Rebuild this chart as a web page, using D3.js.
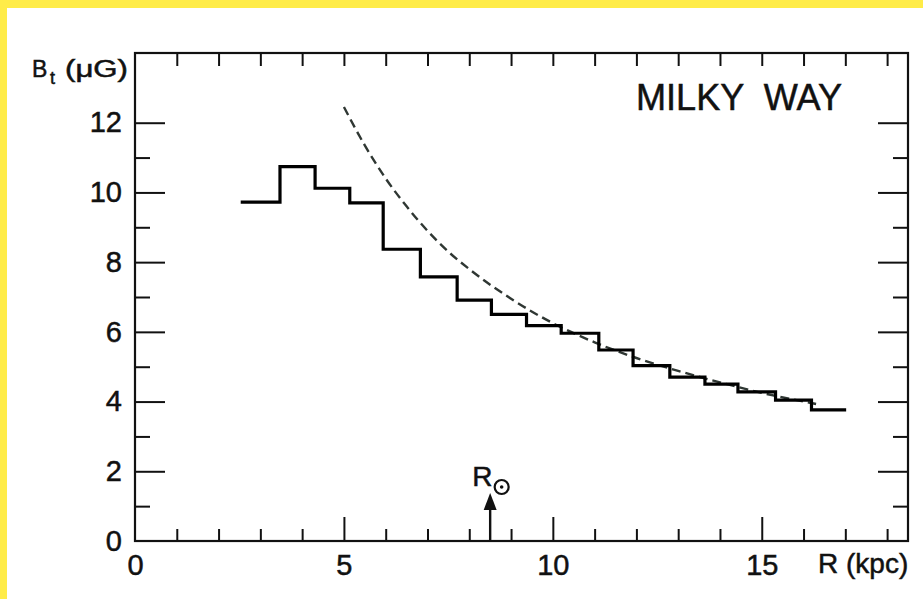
<!DOCTYPE html>
<html>
<head>
<meta charset="utf-8">
<script src="https://cdn.jsdelivr.net/npm/d3@7"></script>
<style>
  body { margin: 0; background: #fff; }
  svg { display: block; }
  text { font-family: "Liberation Sans", Arial, sans-serif; fill: #111; stroke: #111; stroke-width: 0.5px; }
</style>
</head>
<body>
<div id="canvas"></div>
<script>
// Histogram bin edges along R (kpc) and the field strength in each bin (uG).
const binEdges = [2.53, 3.47, 4.31, 5.14, 5.94, 6.83, 7.71, 8.53, 9.37, 10.2,
                  11.1, 11.92, 12.8, 13.64, 14.43, 15.33, 16.19, 17.02];
const fieldStrength = [9.72, 10.74, 10.12, 9.70, 8.37, 7.58, 6.91, 6.50, 6.18,
                       5.96, 5.48, 5.03, 4.70, 4.50, 4.28, 4.04, 3.76];

// Points.
const curveR = [5, 5.5, 6, 6.5, 7, 7.5, 8, 9, 10, 11, 12, 13, 14, 15, 16, 16.3];
const curveB = [12.45, 11.35, 10.4, 9.6, 8.9, 8.3, 7.8, 6.95, 6.25, 5.7, 5.25, 4.88, 4.55, 4.25, 4.0, 3.93];

// Tick values and labels.
const xMajor = [5, 10, 15];
const xMinor = [1, 2, 3, 4, 6, 7, 8, 9, 11, 12, 13, 14, 16, 17, 18];
const xTop = [1, 2, 3, 4, 5, 6, 7, 8, 9, 10, 11, 12, 13, 14, 15, 16, 17, 18];
const xLabels = [0, 5, 10, 15];
const yMajor = [2, 4, 6, 8, 10, 12];
const yMinor = [1, 3, 5, 7, 9, 11];
const yLabels = [0, 2, 4, 6, 8, 10, 12];

const sunR = 8.5;

// Dimensions and colours.
const WIDTH = 923;
const HEIGHT = 599;
const LEFT = 135, RIGHT = 908, TOP = 53, BOTTOM = 541;
const YELLOW = "#ffec48";
const INK = "#111";
const DASH_COLOR = "#2f3733";

const svg = d3.select("#canvas")
              .append("svg")
              .attr("width", WIDTH)
              .attr("height", HEIGHT);

// Yellow border on top and left.
svg.append("rect").attr("x", 0).attr("y", 0).attr("width", WIDTH).attr("height", 8).attr("fill", YELLOW);
svg.append("rect").attr("x", 0).attr("y", 0).attr("width", 7).attr("height", HEIGHT).attr("fill", YELLOW);

const xScale = d3.scaleLinear().domain([0, 18.5]).range([LEFT, RIGHT]);
const yScale = d3.scaleLinear().domain([0, 14]).range([BOTTOM, TOP]);

// Helper that draws an axis with no domain line and styled ticks.
function drawAxis(axis, transform, fontSize) {
    const g = svg.append("g").attr("transform", transform).call(axis);
    g.select(".domain").remove();
    g.selectAll(".tick line").attr("stroke", INK).attr("stroke-width", 2);
    g.selectAll(".tick text")
        .attr("font-size", fontSize || 29)
        .attr("font-family", "Liberation Sans, Arial, sans-serif")
        .attr("fill", INK);
    return g;
}

// Bottom axis.
drawAxis(d3.axisBottom(xScale).tickValues(xMinor).tickSize(-12).tickFormat(""), `translate(0,${BOTTOM})`);
drawAxis(d3.axisBottom(xScale).tickValues(xMajor).tickSize(-24).tickFormat(""), `translate(0,${BOTTOM})`);
drawAxis(d3.axisBottom(xScale).tickValues(xLabels).tickSize(0).tickPadding(13), `translate(0,${BOTTOM})`, 29);

// Top axis.
drawAxis(d3.axisTop(xScale).tickValues(xTop).tickSize(-13).tickFormat(""), `translate(0,${TOP})`);

// Left axis.
drawAxis(d3.axisLeft(yScale).tickValues(yMajor).tickSize(-30).tickFormat(""), `translate(${LEFT},0)`);
drawAxis(d3.axisLeft(yScale).tickValues(yMinor).tickSize(-15).tickFormat(""), `translate(${LEFT},0)`);
drawAxis(d3.axisLeft(yScale).tickValues(yLabels).tickSize(0).tickPadding(13), `translate(${LEFT},0)`, 29);

// Right axis.
drawAxis(d3.axisRight(yScale).tickValues(yMajor).tickSize(-30).tickFormat(""), `translate(${RIGHT},0)`);
drawAxis(d3.axisRight(yScale).tickValues(yMinor).tickSize(-15).tickFormat(""), `translate(${RIGHT},0)`);

// Frame.
svg.append("rect")
    .attr("x", LEFT)
    .attr("y", TOP)
    .attr("width", RIGHT - LEFT)
    .attr("height", BOTTOM - TOP)
    .attr("fill", "none")
    .attr("stroke", INK)
    .attr("stroke-width", 2.2);

// Dashed curve.
const curvePoints = curveR.map((r, i) => [r, curveB[i]]);
svg.append("path")
    .datum(curvePoints)
    .attr("d", d3.line().x(d => xScale(d[0])).y(d => yScale(d[1])).curve(d3.curveMonotoneX))
    .attr("fill", "none")
    .attr("stroke", DASH_COLOR)
    .attr("stroke-width", 2.4)
    .attr("stroke-dasharray", "9 5");

// Step histogram.
const stepPoints = binEdges.map((r, i) => [r, fieldStrength[Math.min(i, fieldStrength.length - 1)]]);
svg.append("path")
    .datum(stepPoints)
    .attr("d", d3.line().x(d => xScale(d[0])).y(d => yScale(d[1])).curve(d3.curveStepAfter))
    .attr("fill", "none")
    .attr("stroke", "#000")
    .attr("stroke-width", 3.2)
    .attr("stroke-linejoin", "miter");

// Solar radius arrow.
const sx = xScale(sunR);
svg.append("line")
    .attr("x1", sx).attr("y1", BOTTOM - 1)
    .attr("x2", sx).attr("y2", 506)
    .attr("stroke", INK)
    .attr("stroke-width", 2.4);
svg.append("path")
    .attr("d", `M${sx},493 L${sx - 6.5},510 L${sx + 6.5},510 Z`)
    .attr("fill", INK);
svg.append("text")
    .attr("x", sx - 18)
    .attr("y", 486)
    .attr("font-size", 28)
    .text("R");
svg.append("circle")
    .attr("cx", sx + 11.5).attr("cy", 487).attr("r", 7)
    .attr("fill", "none").attr("stroke", INK).attr("stroke-width", 2.2);
svg.append("circle")
    .attr("cx", sx + 11.5).attr("cy", 487).attr("r", 1.8)
    .attr("fill", INK);

// Axis titles.
svg.append("text")
    .attr("x", 32).attr("y", 77)
    .attr("font-size", 23)
    .text("B");
svg.append("text")
    .attr("x", 50).attr("y", 84)
    .attr("font-size", 18)
    .text("t");
svg.append("text")
    .attr("x", 65).attr("y", 77)
    .attr("font-size", 23)
    .attr("textLength", 63)
    .attr("lengthAdjust", "spacingAndGlyphs")
    .text("(μG)");

svg.append("text")
    .attr("x", 818)
    .attr("y", 573)
    .attr("font-size", 28)
    .text("R (kpc)");

// Title in the corner.
svg.append("text")
    .attr("x", 636)
    .attr("y", 110)
    .attr("font-size", 37)
    .attr("textLength", 206)
    .attr("lengthAdjust", "spacingAndGlyphs")
    .style("white-space", "pre")
    .text("MILKY  WAY");
</script>
</body>
</html>
